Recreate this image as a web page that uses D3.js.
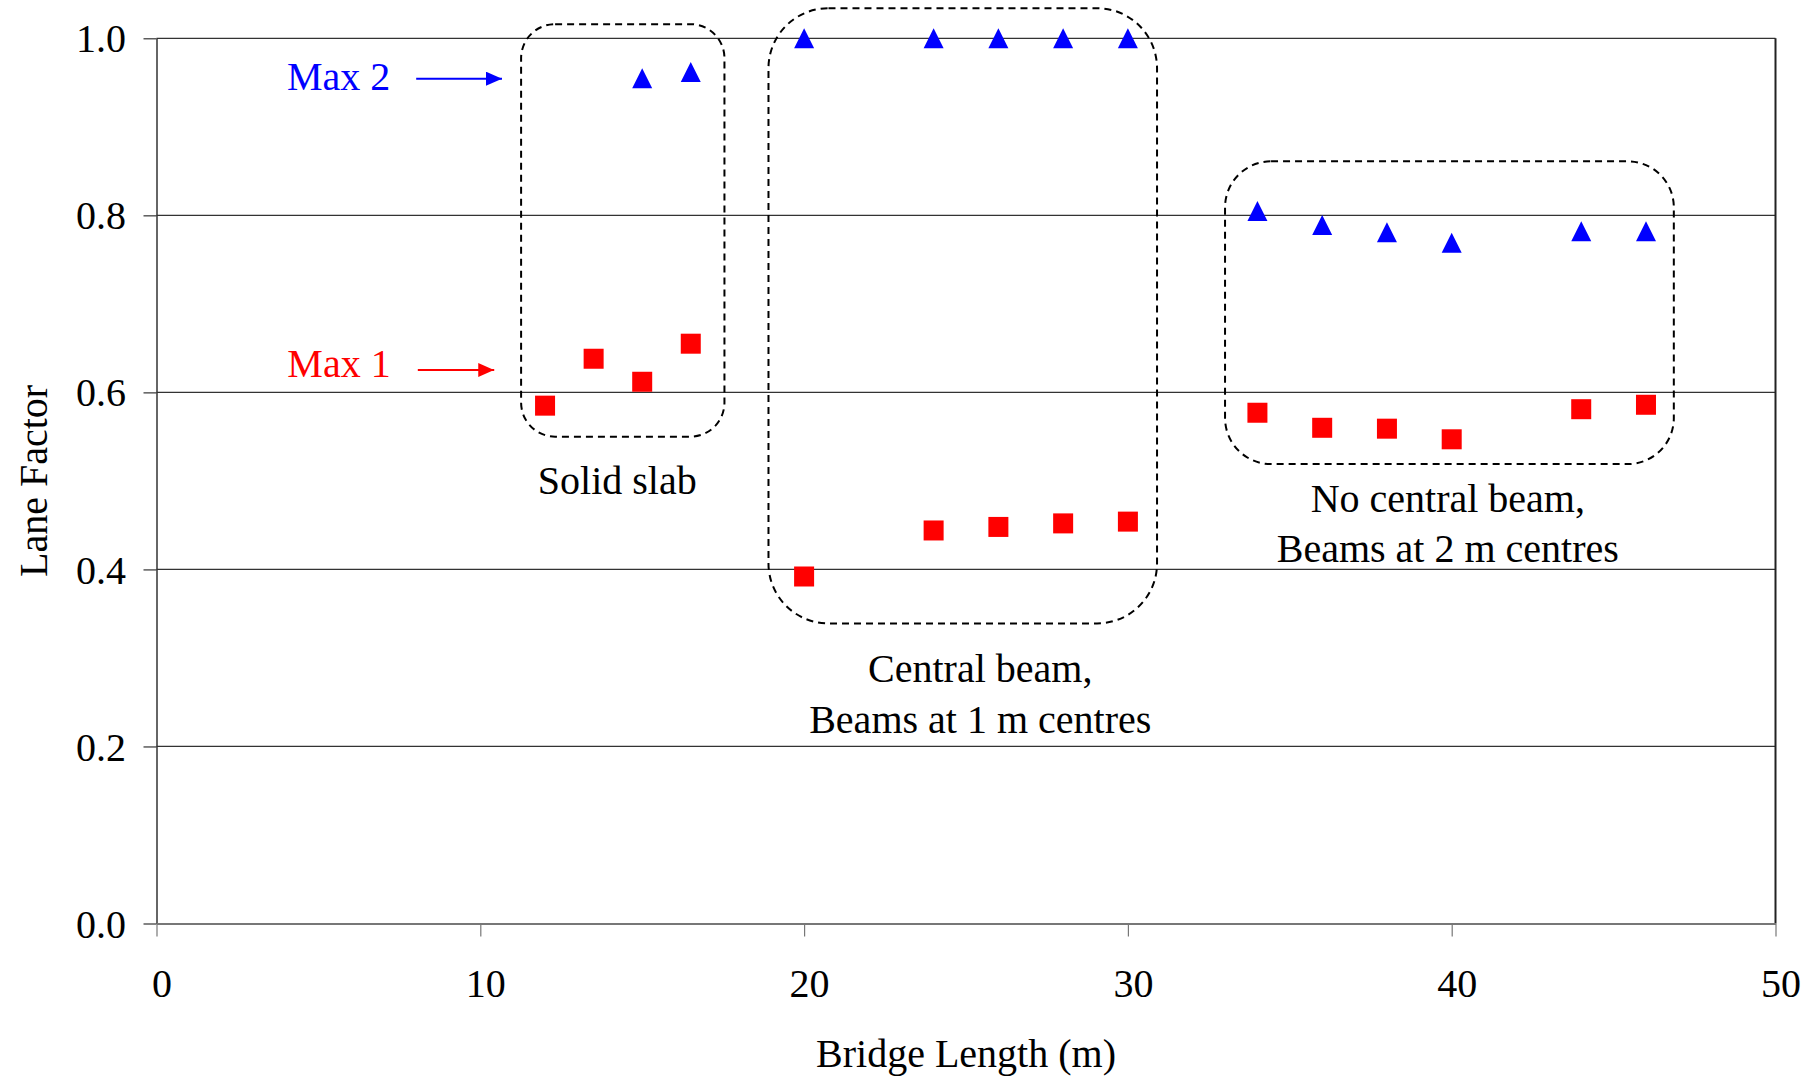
<!DOCTYPE html>
<html>
<head>
<meta charset="utf-8">
<script src="https://cdn.jsdelivr.net/npm/d3@7"></script>
<style>
  html, body { margin: 0; padding: 0; background: #fff; }
  svg { display: block; }
  text { font-family: "Liberation Serif", "Times New Roman", serif; }
</style>
</head>
<body>
<svg id="chart" width="1820" height="1080"></svg>
<script>
// ---- data ----
const max1Lengths = [12, 13.5, 15, 16.5, 20, 24, 26, 28, 30, 34, 36, 38, 40, 44, 46];
const max1Values  = [0.585, 0.638, 0.612, 0.655, 0.392, 0.444, 0.448, 0.452, 0.454, 0.577, 0.560, 0.559, 0.547, 0.581, 0.586];
const max2Lengths = [15, 16.5, 20, 24, 26, 28, 30, 34, 36, 38, 40, 44, 46];
const max2Values  = [0.955, 0.962, 1.0, 1.0, 1.0, 1.0, 1.0, 0.805, 0.789, 0.781, 0.769, 0.782, 0.782];
const xTicks = [0, 10, 20, 30, 40, 50];
const yTicks = [0, 0.2, 0.4, 0.6, 0.8, 1.0];
const groupLabels = [["Solid slab"], ["Central beam,", "Beams at 1 m centres"], ["No central beam,", "Beams at 2 m centres"]];
// group boxes in data units: [x0, x1, yTop, yBottom]
const groupBoxes = [[11.26, 17.54, 1.016, 0.550], [18.9, 30.9, 1.034, 0.339], [33.0, 46.86, 0.861, 0.519]];
const groupLabelPos = [[14.23, 0.4857], [25.44, 0.2725], [39.88, 0.4652]];

// ---- layout ----
const margin = { left: 156.5, right: 1820 - 1775.5, top: 38.3, bottom: 1080 - 923.5 };
const W = 1820, H = 1080;
const svg = d3.select("#chart");
const x = d3.scaleLinear().domain([0, 50]).range([margin.left, W - margin.right]);
const y = d3.scaleLinear().domain([0, 1]).range([H - margin.bottom, margin.top]);

// gridlines
svg.append("g").selectAll("line").data(yTicks.filter(d => d > 0)).join("line")
  .attr("x1", x(0)).attr("x2", x(50))
  .attr("y1", d => y(d)).attr("y2", d => y(d))
  .attr("stroke", "#333").attr("stroke-width", 1.2);

// right border
svg.append("line").attr("x1", x(50)).attr("x2", x(50)).attr("y1", y(1)).attr("y2", y(0))
  .attr("stroke", "#222").attr("stroke-width", 2);

// y axis
const yAxis = svg.append("g").attr("transform", `translate(${x(0)},0)`)
  .call(d3.axisLeft(y).tickValues(yTicks).tickFormat(d3.format(".1f")).tickSize(13).tickSizeOuter(0).tickPadding(17.5));
yAxis.select(".domain").attr("stroke", "#333").attr("stroke-width", 1.5);
yAxis.selectAll(".tick line").attr("stroke", "#333").attr("stroke-width", 1.2);
yAxis.selectAll(".tick text").attr("font-size", 40).attr("fill", "#000")
  .attr("font-family", "Liberation Serif, serif").attr("dy", "0.34em");

// x axis
const xAxis = svg.append("g").attr("transform", `translate(0,${y(0)})`)
  .call(d3.axisBottom(x).tickValues(xTicks).tickFormat(d3.format("d")).tickSize(13).tickSizeOuter(0).tickPadding(31.8));
xAxis.select(".domain").attr("stroke", "#777").attr("stroke-width", 2);
xAxis.selectAll(".tick line").attr("stroke", "#777").attr("stroke-width", 1.2);
xAxis.selectAll(".tick text").attr("font-size", 40).attr("fill", "#000")
  .attr("font-family", "Liberation Serif, serif").attr("dx", 5);

// axis titles
svg.append("text").attr("x", (x(0) + x(50)) / 2).attr("y", 1067.3)
  .attr("text-anchor", "middle").attr("font-size", 40).text("Bridge Length (m)");
svg.append("text").attr("transform", `translate(46.5,${(y(0) + y(1)) / 2}) rotate(-90)`)
  .attr("text-anchor", "middle").attr("font-size", 40).text("Lane Factor");

// group boxes
svg.append("g").selectAll("path").data(groupBoxes).join("rect")
  .attr("x", d => x(d[0])).attr("y", d => y(d[2]))
  .attr("width", d => x(d[1]) - x(d[0])).attr("height", d => y(d[3]) - y(d[2]))
  .attr("rx", (d, i) => [34, 60, 46][i]).attr("ry", (d, i) => [34, 60, 46][i])
  .attr("fill", "none").attr("stroke", "#000").attr("stroke-width", 2)
  .attr("stroke-dasharray", "7,5");

// group labels
groupLabels.forEach((lines, i) => {
  const t = svg.append("text").attr("text-anchor", "middle").attr("font-size", 40);
  lines.forEach((ln, j) => {
    t.append("tspan").attr("x", x(groupLabelPos[i][0])).attr("y", y(groupLabelPos[i][1]) + j * 50.5).text(ln);
  });
});

// markers
const sz = 20;
svg.append("g").selectAll("rect").data(max1Lengths.map((l, i) => [l, max1Values[i]])).join("rect")
  .attr("x", d => x(d[0]) - sz / 2).attr("y", d => y(d[1]) - sz / 2)
  .attr("width", sz).attr("height", sz).attr("fill", "#FF0000");
svg.append("g").selectAll("path").data(max2Lengths.map((l, i) => [l, max2Values[i]])).join("path")
  .attr("d", d => {
    const cx = x(d[0]), cy = y(d[1]);
    return `M${cx},${cy - sz / 2}L${cx + sz / 2},${cy + sz / 2}L${cx - sz / 2},${cy + sz / 2}Z`;
  })
  .attr("fill", "#0000FF");

// series labels with arrows
const defs = svg.append("defs");
[["arrBlue", "#0000FF"], ["arrRed", "#FF0000"]].forEach(([id, c]) => {
  defs.append("marker").attr("id", id).attr("viewBox", "0 0 16 14").attr("refX", 16).attr("refY", 7)
    .attr("markerWidth", 16).attr("markerHeight", 14).attr("markerUnits", "userSpaceOnUse").attr("orient", "auto")
    .append("path").attr("d", "M0,0L16,7L0,14Z").attr("fill", c);
});
const seriesLabels = [
  { text: "Max 2", color: "#0000FF", marker: "arrBlue", tx: 4.03, ty: 0.9416, ax0: 8.02, ax1: 10.67, ay: 0.9544 },
  { text: "Max 1", color: "#FF0000", marker: "arrRed",  tx: 4.04, ty: 0.617,  ax0: 8.07, ax1: 10.43, ay: 0.6253 }
];
seriesLabels.forEach(s => {
  svg.append("text").attr("x", x(s.tx)).attr("y", y(s.ty)).attr("font-size", 40).attr("fill", s.color).text(s.text);
  svg.append("line").attr("x1", x(s.ax0)).attr("x2", x(s.ax1)).attr("y1", y(s.ay)).attr("y2", y(s.ay))
    .attr("stroke", s.color).attr("stroke-width", 2).attr("marker-end", `url(#${s.marker})`);
});
</script>
</body>
</html>
